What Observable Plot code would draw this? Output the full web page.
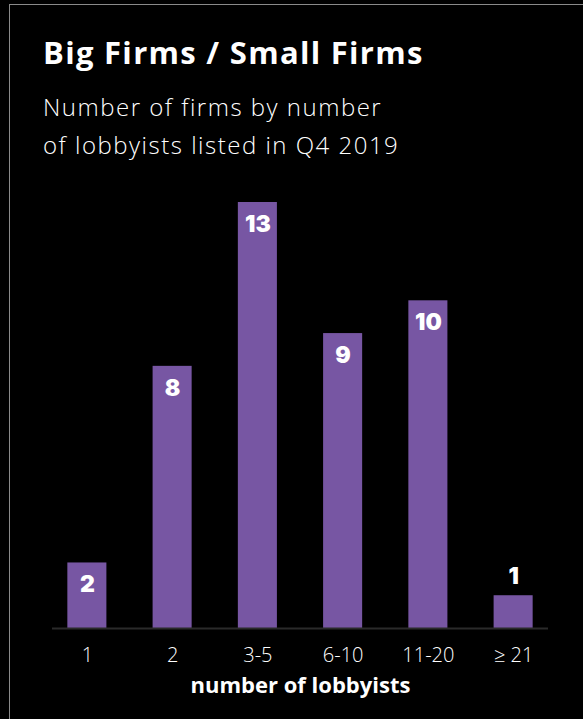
<!DOCTYPE html>
<html>
<head>
<meta charset="utf-8">
<script src="https://cdn.jsdelivr.net/npm/d3@7"></script>
<script src="https://cdn.jsdelivr.net/npm/@observablehq/plot@0.6"></script>
<style>
  html, body { margin: 0; padding: 0; background: #000; width: 583px; height: 719px; overflow: hidden; }
  #frame { position: absolute; left: 9px; top: 4px; width: 700px; height: 900px; border: 1.5px solid #8a8a8a; box-sizing: border-box; }
  #title { position: absolute; left: 43px; top: 32px; color: #fff; font-family: "Open Sans", Lato, sans-serif; font-weight: 700; font-size: 31px; letter-spacing: 1.3px; line-height: 40px; white-space: nowrap; }
  #subtitle { position: absolute; left: 43px; top: 88px; color: #fff; font-family: "Open Sans", Lato, sans-serif; font-weight: 300; font-size: 24px; letter-spacing: 1.5px; line-height: 38px; white-space: nowrap; }
  #chart { position: absolute; left: 0; top: 170px; }
</style>
</head>
<body>
<div id="frame"></div>
<div id="title">Big Firms / Small Firms</div>
<div id="subtitle">Number of firms by number<br>of lobbyists listed in Q4 2019</div>
<div id="chart"></div>
<script>
const categories = ["1", "2", "3-5", "6-10", "11-20", "≥ 21"];
const firms = [2, 8, 13, 9, 10, 1];
const xLabel = "number of lobbyists";

const data = categories.map((c, i) => ({category: c, firms: firms[i]}));

const plot = Plot.plot({
  width: 583,
  height: 549,
  marginLeft: 52,
  marginRight: 35,
  marginTop: 32,
  marginBottom: 91,
  style: {background: "transparent", color: "#fff", fontFamily: "'Open Sans', Lato, sans-serif"},
  x: {domain: categories, paddingInner: 0.542, paddingOuter: 0.18, round: false, label: null},
  y: {domain: [0, 13], axis: null},
  marks: [
    Plot.barY(data, {x: "category", y: "firms", fill: "#7756a3"}),
    Plot.ruleY([0], {stroke: "#2a2a2a", strokeWidth: 2}),
    Plot.axisX({tickSize: 0, tickPadding: 19, fontSize: 20, fontWeight: 300, fill: "#fff", label: null}),
    Plot.text(data.filter(d => d.firms > 1), {x: "category", y: "firms", text: d => String(d.firms), dy: 22, fill: "#fff", fontSize: 23, fontWeight: 900, fontFamily: "Inter, Lato, sans-serif"}),
    Plot.text(data.filter(d => d.firms <= 1), {x: "category", y: "firms", text: d => String(d.firms), dy: -19, fill: "#fff", fontSize: 23, fontWeight: 900, fontFamily: "Inter, Lato, sans-serif"}),
    Plot.text([xLabel], {frameAnchor: "bottom", dy: 64, text: d => d, fill: "#fff", fontSize: 22, fontWeight: 700, style: "letter-spacing: 1px"})
  ]
});
document.getElementById("chart").appendChild(plot);
</script>
</body>
</html>
